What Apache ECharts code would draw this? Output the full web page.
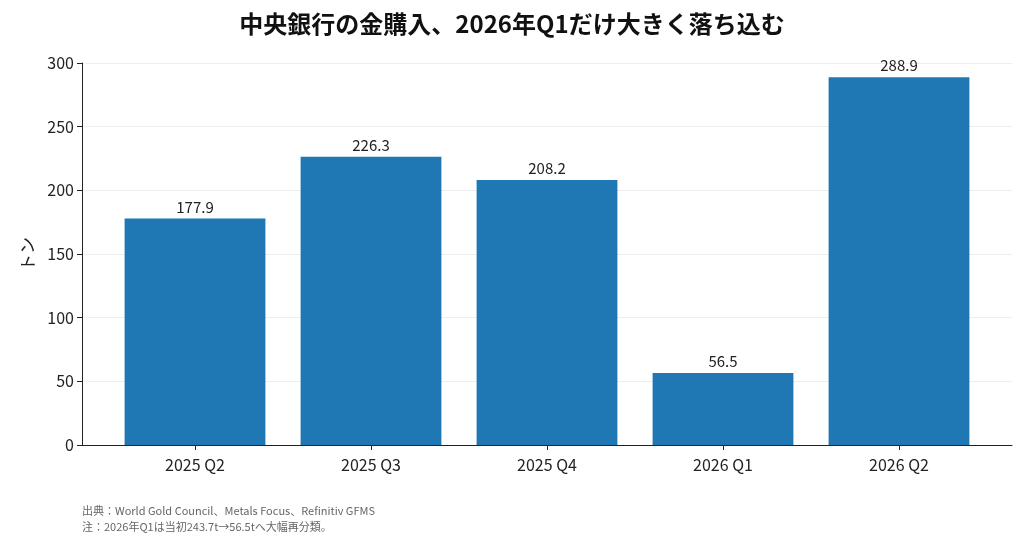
<!DOCTYPE html>
<html>
<head>
<meta charset="utf-8">
<script src="https://cdn.jsdelivr.net/npm/echarts@6/dist/echarts.min.js"></script>
<style>html,body{margin:0;padding:0;background:#fff}#main{width:1024px;height:546px}</style>
</head>
<body>
<div id="main"></div>
<script>
// 中央銀行の金購入（トン）
var quarters = ['2025 Q2', '2025 Q3', '2025 Q4', '2026 Q1', '2026 Q2'];
var tonnes = [177.9, 226.3, 208.2, 56.5, 288.9];
var font = '"Noto Sans CJK JP", "Noto Sans", sans-serif';

var chart = echarts.init(document.getElementById('main'));
var option = {
    textStyle: {fontFamily: font},
    title: {
        text: '中央銀行の金購入、2026年Q1だけ大きく落ち込む',
        left: 'center',
        top: 7,
        textStyle: {fontFamily: font, fontSize: 24, fontWeight: 'bold', color: '#111'}
    },
    // 枠（軸線）用と棒用の2つのgrid
    grid: [
        {left: 82, right: 12, top: 63, bottom: 101},
        {left: 107, right: 37, top: 63, bottom: 101}
    ],
    xAxis: [
        {
            type: 'value', gridIndex: 0, min: 0, max: 1,
            axisLine: {show: true, onZero: false, lineStyle: {color: '#222'}},
            axisTick: {show: false}, axisLabel: {show: false}, splitLine: {show: false}
        },
        {
            type: 'category', gridIndex: 1, data: quarters,
            axisLine: {show: false},
            axisTick: {show: true, alignWithLabel: true, length: 5, lineStyle: {color: '#222'}},
            axisLabel: {color: '#222', fontSize: 16, margin: 12}
        }
    ],
    yAxis: [
        {
            type: 'value', gridIndex: 0, min: 0, max: 300, interval: 50,
            name: 'トン', nameLocation: 'middle', nameGap: 46,
            nameTextStyle: {fontSize: 17, color: '#222'},
            axisLine: {show: true, lineStyle: {color: '#222'}},
            axisTick: {show: true, length: 5, lineStyle: {color: '#222'}},
            axisLabel: {color: '#222', fontSize: 16},
            splitLine: {lineStyle: {color: '#eee'}}
        },
        {
            type: 'value', gridIndex: 1, min: 0, max: 300, interval: 50,
            axisLine: {show: false}, axisTick: {show: false}, axisLabel: {show: false}, splitLine: {show: false}
        }
    ],
    series: [{
        type: 'bar',
        xAxisIndex: 1,
        yAxisIndex: 1,
        data: tonnes,
        barCategoryGap: '20%',
        itemStyle: {color: '#1f77b4'},
        label: {show: true, position: 'top', distance: 4, color: '#222', fontSize: 15, formatter: function (p) { return p.value.toFixed(1); }}
    }],
    graphic: [{
        type: 'text',
        left: 82,
        top: 503,
        style: {
            text: '出典：World Gold Council、Metals Focus、Refinitiv GFMS\n注：2026年Q1は当初243.7t→56.5tへ大幅再分類。',
            fill: '#666',
            font: '11px ' + font,
            lineHeight: 16
        }
    }]
};
chart.setOption(option);
window.onresize = function () { chart.resize(); };
</script>
</body>
</html>
